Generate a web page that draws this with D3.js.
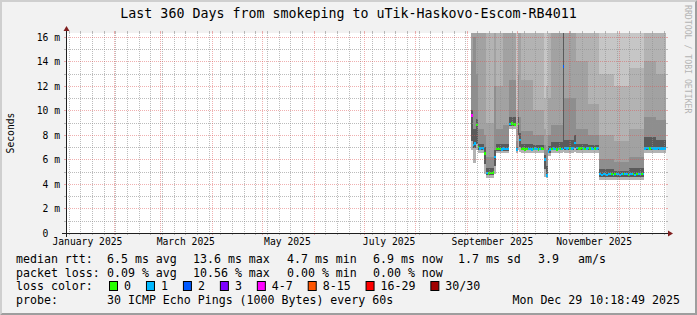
<!DOCTYPE html>
<html><head><meta charset="utf-8">
<script src="https://cdn.jsdelivr.net/npm/d3@7"></script>
<style>
html,body{margin:0;padding:0;background:#f2f2f2;}
svg{display:block;}
text{font-family:"DejaVu Sans Mono",monospace;fill:#000;}
</style></head><body>
<svg id="chart" width="697" height="315"></svg>
<script>
// ---------------- data ----------------
const title = "Last 360 Days from smokeping to uTik-Haskovo-Escom-RB4011";
const yAxisTitle = "Seconds";
const endTime = "2025-12-29T10:18:49Z";
const rangeDays = 360;
const firstDay = "2025-09-03T12:00:00Z";   // first daily sample

// daily median rtt (ms)
const median = [
 9.6,7.2,7.3,8.8,7.0,6.9,6.95,6.9,6.5,4.9,
 4.85,4.9,4.9,4.95,6.2,6.85,6.9,6.85,6.8,6.9,
 6.85,6.85,6.9,8.9,8.95,8.9,8.85,6.8,8.9,7.6,
 6.85,6.9,6.8,6.85,6.9,6.85,6.8,6.85,6.9,6.85,
 6.8,6.85,6.9,6.85,6.0,4.7,6.65,6.8,6.85,6.9,
 6.85,6.8,6.85,6.9,6.85,13.6,6.95,6.9,6.95,6.9,
 6.9,6.95,7.35,6.95,6.9,6.9,6.95,6.9,6.85,6.9,
 6.95,6.9,6.9,6.85,6.9,6.9,6.95,4.8,4.75,4.8,
 4.8,4.75,4.8,4.8,4.8,4.75,4.8,4.8,4.8,4.75,
 4.8,4.8,4.8,4.8,4.75,4.8,4.8,4.8,4.75,4.8,
 4.8,4.8,4.8,4.8,6.9,6.95,6.9,6.9,6.95,6.9,
 6.9,6.9,6.95,6.9,6.9,6.9,6.9
];
// daily lost pings (of 30)
const loss = [
 5,1,1,0,0,1,1,1,0,1,
 0,0,0,0,1,0,0,0,1,1,
 1,1,1,1,0,0,0,1,0,1,
 0,0,0,0,1,1,1,0,1,1,
 0,1,0,0,1,1,1,1,0,1,
 1,0,1,0,1,2,1,1,1,0,
 1,1,1,1,0,0,0,1,0,1,
 1,0,1,1,0,1,1,1,1,1,
 1,1,1,1,0,1,0,1,1,1,
 1,0,1,1,0,1,1,0,1,0,
 1,1,0,1,1,1,1,0,1,1,
 1,1,1,1,1,1,1
];
// smoke blocks: first day index of each block and ping distribution (ms)
const blockStart = [0,1,3,4,8,9,14,15,19,23,27,28,29,30,37,44,45,46,48,55,56,62,63,70,77,86,95,104,111];
const pingMin = [6.8,5.7,6.8,6.5,4.8,4.5,4.8,6.5,6.5,8.5,6.5,6.8,6.6,6.5,6.5,4.6,4.5,6.3,6.5,6.6,6.55,6.6,6.55,6.55,4.35,4.35,4.35,6.55,6.55];
const pingLow = [7.5,6.9,7.3,6.75,5.6,4.7,5.5,6.7,6.7,8.75,6.7,8.0,7.0,6.75,6.75,5.2,4.6,6.5,6.75,6.85,6.8,6.9,6.8,6.8,4.6,4.6,4.6,6.8,6.8];
const ping55 = [10,8.5,9.3,7.3,7.0,5.3,6.8,7.3,7.3,9.5,7.0,9.5,8.2,7.3,7.2,6.4,5.5,7.1,7.4,30,7.6,8.0,7.3,7.2,5.2,5.1,5.3,7.8,7.6];
const ping65 = [14,16,13,8.5,8.0,6.2,12,8.5,8.8,12.5,7.5,13,9.5,8.3,8.0,7.2,6.8,8.0,8.8,30,11,11,8.5,8.0,6.0,5.8,6.2,9.5,9.2];
const ping75 = [30,30,30,20,20,9,30,12,20,30,8.5,30,20,12.5,10,8.5,8,11,20,30,30,30,14,10.5,8.0,7.5,8.5,14,13];
const ping90 = [30,30,30,30,30,20,30,30,30,30,10,30,30,30,30,11,12,30,30,30,30,30,30,30,13,12,13.5,30,30];
const pingMax = [30,30,30,30,30,30,30,30,30,30,30,30,30,30,30,30,30,30,30,30,30,30,30,30,30,30,30,30,30];

const yMajorTicks = [0,2,4,6,8,10,12,14,16];
const yTickLabels = ["0","2 m","4 m","6 m","8 m","10 m","12 m","14 m","16 m"];
const yMinorTicks = [1,3,5,7,9,11,13,15];
const xTickDates = ["2025-01-16","2025-03-16","2025-05-16","2025-07-16","2025-09-16","2025-11-16"];
const xTickLabels = ["January 2025","March 2025","May 2025","July 2025","September 2025","November 2025"];

const lossLabels = ["0","1","2","3","4-7","8-15","16-29","30/30"];
const lossColors = ["#26ff00","#00b8ff","#0059ff","#7e00ff","#ff00ff","#ff5500","#ff0000","#a10000"];
const lossUpper = [0,1,2,3,7,15,29,30];
const smokeColors = ["#c6c6c6","#b3b3b3","#a2a2a2","#8e8e8e","#5a5a5a"];

const rttStats = ["6.5 ms avg","13.6 ms max","4.7 ms min","6.9 ms now","1.7 ms sd","3.9","am/s"];
const lossStats = ["0.09 % avg","10.56 % max","0.00 % min","0.00 % now"];
const probeText = "30 ICMP Echo Pings (1000 Bytes) every 60s";
const stampText = "Mon Dec 29 10:18:49 2025";

// ---------------- layout ----------------
const W = 697, H = 315;
const X0 = 66, XS = 600, Y0 = 233, YS = 200;
const AXF = 9.7;            // axis font px
const svg = d3.select("#chart");

const end = new Date(endTime);
const start = d3.utcDay.offset(end, -rangeDays);
const x = d3.scaleUtc().domain([start, end]).range([X0, X0 + XS]);
const yMax = d3.max(median) * 1.2;
const y = d3.scaleLinear().domain([0, yMax]).range([Y0, Y0 - YS]);

// background & 3d border
svg.append("rect").attr("width", W).attr("height", H).attr("fill", "#f2f2f2");
svg.append("path").attr("fill", "#cfcfcf")
  .attr("d", `M0,${H}L2,${H-2}L2,2L${W-2},2L${W},0L0,0Z`);
svg.append("path").attr("fill", "#9e9e9e")
  .attr("d", `M2,${H-2}L${W-2},${H-2}L${W-2},2L${W},0L${W},${H}L0,${H}Z`);

// canvas
svg.append("rect").attr("x", X0).attr("y", Y0 - YS).attr("width", XS).attr("height", YS).attr("fill", "#fff");

svg.append("clipPath").attr("id", "plotclip").append("rect")
  .attr("x", X0).attr("y", Y0 - YS).attr("width", XS).attr("height", YS);

const day0 = new Date(firstDay);
const dayDate = k => d3.utcDay.offset(day0, k);
const clampT = t => (t > end ? end : t);

// smoke
const blocks = blockStart.map((s, i) => {
  const e = i + 1 < blockStart.length ? blockStart[i + 1] : median.length;
  return {t0: dayDate(s), t1: clampT(dayDate(e)),
    bands: [[pingMin[i], pingMax[i]], [pingMin[i], ping90[i]], [pingLow[i], ping75[i]],
            [pingLow[i], ping65[i]], [pingLow[i], ping55[i]]]};
});
const smokeG = svg.append("g").attr("clip-path", "url(#plotclip)").attr("shape-rendering", "crispEdges");
smokeColors.forEach((c, b) => {
  smokeG.append("g").selectAll("rect").data(blocks).join("rect")
    .attr("x", d => x(d.t0))
    .attr("width", d => Math.max(0, x(d.t1) - x(d.t0)))
    .attr("y", d => y(Math.min(d.bands[b][1], yMax + 1)))
    .attr("height", d => Math.max(0, y(d.bands[b][0]) - y(Math.min(d.bands[b][1], yMax + 1))))
    .attr("fill", c);
});

// median band coloured by loss
const lossIndex = v => lossUpper.findIndex(u => v <= u);
const medData = median.map((m, k) => ({t0: dayDate(k), t1: clampT(dayDate(k + 1)), m, l: loss[k]}))
  .filter(d => d.t0 < end);
smokeG.append("g").selectAll("rect").data(medData).join("rect")
  .attr("x", d => x(d.t0))
  .attr("width", d => Math.max(0, x(d.t1) - x(d.t0)))
  .attr("y", d => y(d.m) - 1.2)
  .attr("height", 2.4)
  .attr("fill", d => lossColors[lossIndex(d.l)]);

// grid
const gridG = svg.append("g");
const minorCol = "rgba(143,143,143,0.6)";
const majorCol = "rgba(222,79,79,0.45)";
function hline(v, col) {
  const yy = Math.round(y(v)) + 0.5;
  gridG.append("line").attr("x1", X0).attr("x2", X0 + XS).attr("y1", yy).attr("y2", yy)
    .attr("stroke", col).attr("stroke-dasharray", "1,1");
  gridG.append("line").attr("x1", X0 - 2).attr("x2", X0).attr("y1", yy).attr("y2", yy).attr("stroke", col);
  gridG.append("line").attr("x1", X0 + XS).attr("x2", X0 + XS + 2).attr("y1", yy).attr("y2", yy).attr("stroke", col);
}
function vline(t, col) {
  const xx = Math.round(x(t)) + 0.5;
  gridG.append("line").attr("x1", xx).attr("x2", xx).attr("y1", Y0 - YS).attr("y2", Y0)
    .attr("stroke", col).attr("stroke-dasharray", "1,1");
  gridG.append("line").attr("x1", xx).attr("x2", xx).attr("y1", Y0).attr("y2", Y0 + 2).attr("stroke", col);
  gridG.append("line").attr("x1", xx).attr("x2", xx).attr("y1", Y0 - YS - 2).attr("y2", Y0 - YS).attr("stroke", col);
}
const months = d3.utcMonth.range(start, end);
const monthSet = new Set(months.map(d => +d));
d3.utcSunday.range(start, end).filter(d => !monthSet.has(+d)).forEach(d => vline(d, minorCol));
yMinorTicks.forEach(v => hline(v, minorCol));
months.forEach(d => vline(d, majorCol));
yMajorTicks.filter(v => v > 0).forEach(v => hline(v, majorCol));

// axes lines + arrows
svg.append("line").attr("x1", X0 - 4).attr("x2", X0 + XS + 4).attr("y1", Y0 + 0.5).attr("y2", Y0 + 0.5).attr("stroke", "#1f1f1f");
svg.append("line").attr("x1", X0 + 0.5).attr("x2", X0 + 0.5).attr("y1", Y0 + 4).attr("y2", Y0 - YS - 4).attr("stroke", "#1f1f1f");
svg.append("path").attr("fill", "#801f1f")
  .attr("d", `M${X0 + XS + 2},${Y0 - 2.5}L${X0 + XS + 2},${Y0 + 3.5}L${X0 + XS + 7},${Y0 + 0.5}Z`);
svg.append("path").attr("fill", "#801f1f")
  .attr("d", `M${X0 - 2.5},${Y0 - YS - 2}L${X0 + 3.5},${Y0 - YS - 2}L${X0 + 0.5},${Y0 - YS - 7}Z`);

// axis labels through d3 axes
const yAxis = d3.axisLeft(y).tickValues(yMajorTicks)
  .tickFormat((d, i) => yTickLabels[i]).tickSize(0).tickPadding(6);
const gy = svg.append("g").attr("transform", `translate(${X0},0)`).call(yAxis);
gy.select(".domain").remove();
gy.selectAll("text").style("font-family", '"DejaVu Sans Mono",monospace').style("font-size", AXF + "px")
  .attr("dy", "0.36em")
  .attr("x", function (d, i) {   // unit-less label keeps the number column aligned
    return yTickLabels[i].indexOf(" ") < 0 ? -6 - 2 * AXF * 0.602 : -6;
  });

const xAxis = d3.axisBottom(x).tickValues(xTickDates.map(d => new Date(d + "T00:00:00Z")))
  .tickFormat((d, i) => xTickLabels[i]).tickSize(0).tickPadding(5);
const gx = svg.append("g").attr("transform", `translate(0,${Y0})`).call(xAxis);
gx.select(".domain").remove();
gx.selectAll("text").style("font-family", '"DejaVu Sans Mono",monospace').style("font-size", AXF + "px");

// titles
svg.append("text").attr("x", W / 2).attr("y", 18).attr("text-anchor", "middle")
  .style("font-size", "13.3px").text(title);
svg.append("text").attr("transform", `translate(13.5,${Y0 - YS / 2}) rotate(-90)`)
  .attr("text-anchor", "middle").style("font-size", AXF + "px").text(yAxisTitle);
svg.append("text").attr("transform", "translate(685,5) rotate(90)")
  .style("font-size", "8.2px").style("fill", "#b4b4b4").text("RRDTOOL / TOBI OETIKER");

// legend
const LF = "11.6px";
const cols = [107, 193, 287, 373, 458, 538, 578];
const rows = [263, 276.5, 290, 304];
function lt(xp, yp, s, anchor) {
  svg.append("text").attr("x", xp).attr("y", yp).attr("text-anchor", anchor || "start")
    .style("font-size", LF).style("white-space", "pre").text(s);
}
lt(16, rows[0], "median rtt:");
rttStats.forEach((s, i) => lt(cols[i], rows[0], s));
lt(16, rows[1], "packet loss:");
lossStats.forEach((s, i) => lt(cols[i], rows[1], s));
lt(16, rows[2], "loss color:");
let cx = 109;
const CW = 6.96;
lossLabels.forEach((lab, i) => {
  svg.append("rect").attr("x", cx + 0.5).attr("y", rows[2] - 8.5).attr("width", 8).attr("height", 9)
    .attr("fill", lossColors[i]).attr("stroke", "#000").attr("stroke-width", 1);
  lt(cx + 15, rows[2], lab);
  cx += 15 + lab.length * CW + 15;
});
lt(16, rows[3], "probe:");
lt(cols[0], rows[3], probeText);
lt(680, rows[3], stampText, "end");
</script>
</body></html>
